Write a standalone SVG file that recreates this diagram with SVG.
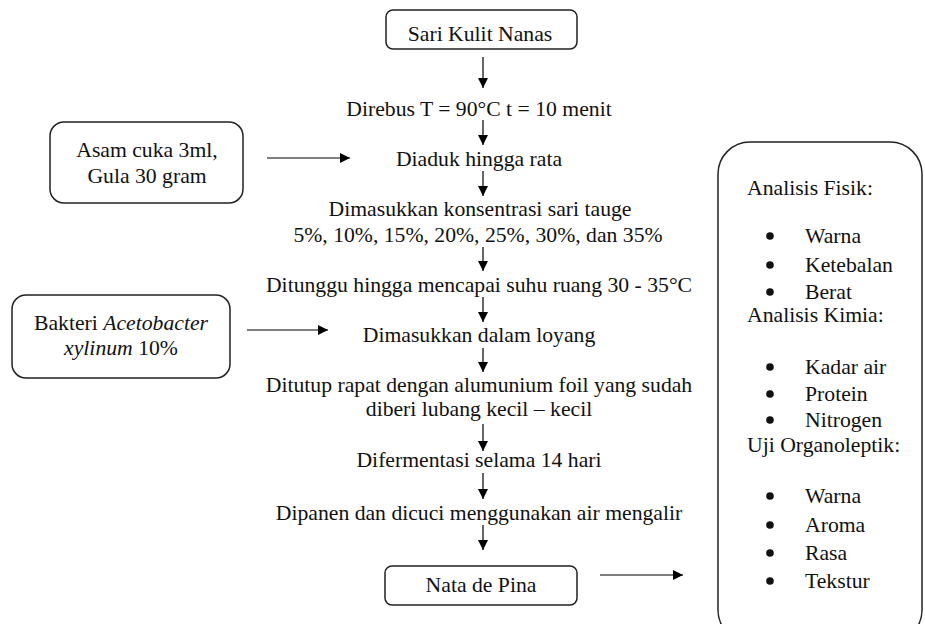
<svg xmlns="http://www.w3.org/2000/svg" width="925" height="624" viewBox="0 0 925 624">
<defs>
<marker id="ah" viewBox="0 0 10 10" refX="10" refY="5" markerWidth="11" markerHeight="10" markerUnits="userSpaceOnUse" orient="auto">
<path d="M0,0 L10,5 L0,10 Z" fill="#000"/>
</marker>
</defs>
<rect width="925" height="624" fill="#fff"/>
<g font-family="Liberation Serif" font-size="21.7" fill="#111">
<g fill="#fff" stroke="#222" stroke-width="1.5">
<rect id="sari-box" x="386" y="10" width="191" height="39" rx="7"/>
<rect id="asam-box" x="50" y="122" width="193" height="81" rx="14"/>
<rect id="bakteri-box" x="12" y="295" width="218" height="83" rx="14"/>
<rect id="nata-box" x="385" y="566" width="192" height="39" rx="7"/>
<rect id="analisis-box" x="718" y="142" width="204" height="500" rx="32"/>
</g>
<g text-anchor="middle">
<g id="sari"><text x="480" y="41">Sari Kulit Nanas</text></g>
<g id="direbus"><text x="479" y="116">Direbus T = 90°C t = 10 menit</text></g>
<g id="diaduk"><text x="479" y="166">Diaduk hingga rata</text></g>
<g id="asam"><text x="147" y="157">Asam cuka 3ml,</text><text x="147" y="183">Gula 30 gram</text></g>
<g id="konsentrasi"><text x="480" y="216">Dimasukkan konsentrasi sari tauge</text><text x="478" y="242">5%, 10%, 15%, 20%, 25%, 30%, dan 35%</text></g>
<g id="ditunggu"><text x="479" y="292">Ditunggu hingga mencapai suhu ruang 30 - 35°C</text></g>
<g id="bakteri"><text x="121" y="330">Bakteri <tspan font-style="italic">Acetobacter</tspan></text><text x="121" y="355"><tspan font-style="italic">xylinum</tspan> 10%</text></g>
<g id="loyang"><text x="479" y="342">Dimasukkan dalam loyang</text></g>
<g id="ditutup"><text x="479" y="392">Ditutup rapat dengan alumunium foil yang sudah</text><text x="479" y="416">diberi lubang kecil – kecil</text></g>
<g id="fermentasi"><text x="479" y="467">Difermentasi selama 14 hari</text></g>
<g id="dipanen"><text x="479" y="520">Dipanen dan dicuci menggunakan air mengalir</text></g>
<g id="nata"><text x="481" y="592">Nata de Pina</text></g>
</g>
<g id="analisis">
<text x="747" y="195">Analisis Fisik:</text>
<circle cx="770" cy="236" r="3.8"/><text x="805" y="243">Warna</text>
<circle cx="770" cy="265" r="3.8"/><text x="805" y="272">Ketebalan</text>
<circle cx="770" cy="292" r="3.8"/><text x="805" y="299">Berat</text>
<text x="747" y="322">Analisis Kimia:</text>
<circle cx="770" cy="367" r="3.8"/><text x="805" y="374">Kadar air</text>
<circle cx="770" cy="394" r="3.8"/><text x="805" y="401">Protein</text>
<circle cx="770" cy="420" r="3.8"/><text x="805" y="427">Nitrogen</text>
<text x="747" y="452">Uji Organoleptik:</text>
<circle cx="770" cy="496" r="3.8"/><text x="805" y="503">Warna</text>
<circle cx="770" cy="525" r="3.8"/><text x="805" y="532">Aroma</text>
<circle cx="770" cy="553" r="3.8"/><text x="805" y="560">Rasa</text>
<circle cx="770" cy="581" r="3.8"/><text x="805" y="588">Tekstur</text>
</g>
</g>
<g id="connectors" stroke="#000" stroke-width="1.2" fill="none" marker-end="url(#ah)">
<line x1="483" y1="57" x2="483" y2="88"/>
<line x1="483" y1="120" x2="483" y2="145"/>
<line x1="483" y1="171" x2="483" y2="196"/>
<line x1="483" y1="247" x2="483" y2="271"/>
<line x1="483" y1="297" x2="483" y2="322"/>
<line x1="483" y1="348" x2="483" y2="372"/>
<line x1="483" y1="424" x2="483" y2="451"/>
<line x1="483" y1="473" x2="483" y2="499"/>
<line x1="483" y1="525" x2="483" y2="550"/>
<line x1="267" y1="158" x2="350" y2="158"/>
<line x1="247" y1="330" x2="328" y2="330"/>
<line x1="600" y1="575" x2="683" y2="575"/>
</g>
</svg>
